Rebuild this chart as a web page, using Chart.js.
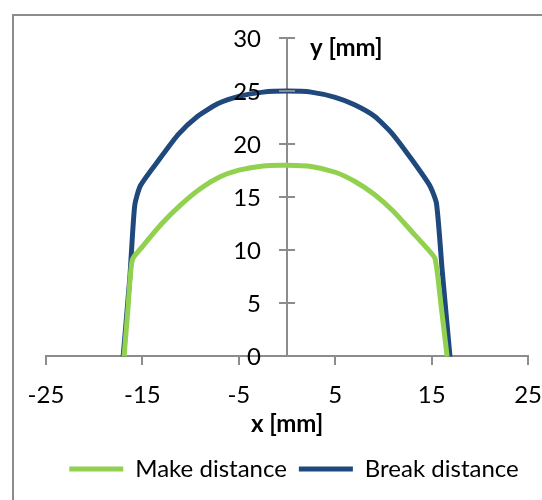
<!DOCTYPE html>
<html>
<head>
<meta charset="utf-8">
<script src="https://cdn.jsdelivr.net/npm/chart.js@4.4.1/dist/chart.umd.min.js"></script>
<style>
  body { margin: 0; background: #fff; }
  #wrap { position: relative; width: 542px; height: 500px; }
  #frame { position: absolute; left: 12px; top: 14px; width: 600px; height: 600px;
           border-top: 2px solid #8c8c8c; border-left: 2px solid #8c8c8c; pointer-events: none; }
</style>
</head>
<body>
<div id="wrap">
  <canvas id="chart" width="542" height="500"></canvas>
  <div id="frame"></div>
</div>
<script>
// values (mm)
const makeX  = [-16.9, -16.5, -16.05, -15, -13, -11, -9, -7, -5, -2.5, 0, 2.5, 5, 7, 9, 11, 13, 14.5, 15.35, 15.95, 16.6];
const makeY  = [0, 4.5, 9.1, 10.35, 12.5, 14.3, 15.8, 16.9, 17.55, 17.95, 18, 17.9, 17.35, 16.5, 15.3, 13.7, 11.7, 10.2, 9.2, 5, 0];
const breakX = [-17, -16.3, -15.8, -15.2, -13.3, -11.3, -9.3, -7.2, -5, -2.5, 0, 2.5, 5, 7, 9.1, 10.9, 12.9, 14.8, 15.5, 16.1, 16.9];
const breakY = [0, 7.5, 14.2, 16.1, 18.5, 20.9, 22.6, 23.8, 24.5, 24.9, 25, 24.9, 24.4, 23.7, 22.6, 21.0, 18.6, 16.1, 14.4, 8, 0];
const xTicks = [-25, -15, -5, 5, 15, 25];
const yTicks = [0, 5, 10, 15, 20, 25, 30];

const FONT = 'Lato';
const AXIS = '#8c8c8c';
const toPoints = (xs, ys) => xs.map((x, i) => ({ x: x, y: ys[i] }));

// y axis sits at x = 0: its labels, cross ticks and title are drawn here, plus the x tick marks
const centerAxis = {
    id: 'centerAxis',
    afterDatasetsDraw(chart) {
        const ctx = chart.ctx;
        const xs = chart.scales.x, ys = chart.scales.y;
        const ax = xs.getPixelForValue(0);
        const ay = Math.round(ys.getPixelForValue(0));
        ctx.save();
        ctx.strokeStyle = AXIS;
        ctx.lineWidth = 2;
        xTicks.forEach(v => {
            const px = Math.round(xs.getPixelForValue(v));
            ctx.beginPath();
            ctx.moveTo(px, ay);
            ctx.lineTo(px, ay + 9);
            ctx.stroke();
        });
        ctx.fillStyle = '#000';
        ctx.font = '24px ' + FONT;
        ctx.textAlign = 'right';
        ctx.textBaseline = 'middle';
        yTicks.forEach(v => {
            const py = Math.round(ys.getPixelForValue(v));
            ctx.beginPath();
            ctx.moveTo(ax - 8, py);
            ctx.lineTo(ax + 8, py);
            ctx.stroke();
            ctx.fillText(String(v), ax - 26, py + 1);
        });
        ctx.font = 'bold 24px ' + FONT;
        ctx.textAlign = 'left';
        ctx.fillText('y [mm]', ax + 23, ys.getPixelForValue(30) + 10);
        ctx.restore();
    }
};

new Chart(document.getElementById('chart').getContext('2d'), {
    type: 'scatter',
    data: {
        datasets: [
            {
                label: 'Make distance',
                data: toPoints(makeX, makeY),
                showLine: true,
                borderColor: '#92d050',
                backgroundColor: '#92d050',
                borderWidth: 5,
                borderCapStyle: 'round',
                borderJoinStyle: 'round',
                pointRadius: 0,
                tension: 0.2
            },
            {
                label: 'Break distance',
                data: toPoints(breakX, breakY),
                showLine: true,
                borderColor: '#1f497d',
                backgroundColor: '#1f497d',
                borderWidth: 5,
                borderCapStyle: 'round',
                borderJoinStyle: 'round',
                pointRadius: 0,
                tension: 0.2
            }
        ]
    },
    options: {
        responsive: false,
        animation: false,
        layout: { padding: { left: 46, right: 0, top: 38, bottom: 9 } },
        scales: {
            x: {
                type: 'linear',
                position: 'bottom',
                min: -25,
                max: 25,
                afterBuildTicks: scale => { scale.ticks = xTicks.map(v => ({ value: v })); },
                grid: { drawOnChartArea: false, tickLength: 24, color: 'rgba(0,0,0,0)' },
                border: { color: AXIS, width: 2 },
                ticks: { color: '#000', font: { family: FONT, size: 24 }, padding: 0, maxRotation: 0 },
                title: { display: true, text: 'x [mm]', color: '#000',
                         font: { family: FONT, size: 24, weight: 'bold' }, padding: { top: 1, bottom: 6 } }
            },
            y: {
                type: 'linear',
                position: { x: 0 },
                min: 0,
                max: 30,
                ticks: { stepSize: 5, display: false },
                grid: { display: false },
                border: { color: AXIS, width: 2 }
            }
        },
        plugins: {
            legend: {
                position: 'bottom',
                labels: {
                    usePointStyle: true,
                    pointStyle: 'line',
                    pointStyleWidth: 54,
                    color: '#000',
                    font: { family: FONT, size: 24 },
                    padding: 12
                }
            },
            tooltip: { enabled: false }
        }
    },
    plugins: [centerAxis]
});
</script>
</body>
</html>
